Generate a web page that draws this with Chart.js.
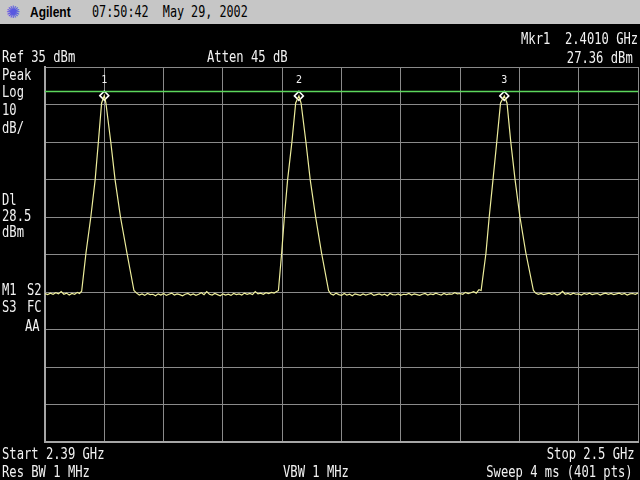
<!DOCTYPE html>
<html>
<head>
<meta charset="utf-8">
<script src="https://cdn.jsdelivr.net/npm/chart.js@4.4.0/dist/chart.umd.min.js"></script>
<style>
  html, body { margin: 0; padding: 0; background: #000; }
  #wrap { position: relative; width: 640px; height: 480px; overflow: hidden; background: #000; }
  #plot { position: absolute; left: 0; top: 0; }
  #head { position: absolute; left: 0; top: 0; width: 640px; height: 24px; background: #c6c6c6; }
  .t { position: absolute; font: 16px "DejaVu Sans Mono", monospace; line-height: 16px; color: #f2f2f2;
       white-space: pre; transform: scaleX(0.76); transform-origin: 0 0; }
  .r { transform-origin: 100% 0; }
  .logo { position: absolute; left: 6px; top: 2px; font: 17px "DejaVu Sans", sans-serif; color: #5858e0; }
  .brand { position: absolute; left: 30px; top: 3px; font: bold 15px "Liberation Sans", Arial, sans-serif;
           color: #000; transform: scaleX(0.8); transform-origin: 0 0; }
</style>
</head>
<body>
<div id="wrap">
  <canvas id="plot" width="640" height="480"></canvas>
  <div id="head">
    <span class="logo">✺</span>
    <span class="brand">Agilent</span>
    <span class="t" style="left:92px; top:3.5px; color:#000; transform:scaleX(0.735);">07:50:42  May 29, 2002</span>
  </div>

  <div class="t r" style="right:2px; top:30.5px;">Mkr1  2.4010 GHz</div>
  <div class="t" style="left:2px; top:48.5px;">Ref 35 dBm</div>
  <div class="t" style="left:207px; top:48.5px;">Atten 45 dB</div>
  <div class="t r" style="right:7px; top:49.5px;">27.36 dBm</div>

  <div class="t" style="left:2px; top:66.5px;">Peak</div>
  <div class="t" style="left:2px; top:84px;">Log</div>
  <div class="t" style="left:2px; top:101.5px;">10</div>
  <div class="t" style="left:2px; top:119.5px;">dB/</div>

  <div class="t" style="left:2px; top:191.5px;">Dl</div>
  <div class="t" style="left:2px; top:207.5px;">28.5</div>
  <div class="t" style="left:2px; top:223.5px;">dBm</div>

  <div class="t" style="left:2px; top:281.5px;">M1</div>
  <div class="t" style="left:27px; top:281.5px;">S2</div>
  <div class="t" style="left:2px; top:298.5px;">S3</div>
  <div class="t" style="left:27px; top:298.5px;">FC</div>
  <div class="t" style="left:25px; top:317.5px;">AA</div>

  <div class="t" style="left:2px; top:445.5px;">Start 2.39 GHz</div>
  <div class="t r" style="right:5px; top:445.5px;">Stop 2.5 GHz</div>
  <div class="t" style="left:2px; top:463.5px;">Res BW 1 MHz</div>
  <div class="t" style="left:283px; top:463.5px;">VBW 1 MHz</div>
  <div class="t r" style="right:7px; top:463.5px;">Sweep 4 ms (401 pts)</div>
</div>

<script>
// analyzer settings
const startMHz = 2390;
const stopMHz = 2500;
const refLevel = 35;      // dBm, top of screen
const dbPerDiv = 10;
const displayLine = 28.5; // dBm

// trace: frequency (MHz) and level (dBm)
const freqMHz = [
  2390, 2390.5, 2391, 2391.5, 2392, 2392.5, 2393, 2393.5, 2394, 2394.5, 2395, 2395.5, 2396, 2396.4,
  2396.8, 2397.6, 2398.5, 2399.3, 2399.9, 2400.5, 2401.0, 2401.3, 2402.2, 2403.0, 2404.0, 2405.2, 2406.5,
  2407, 2407.5, 2408, 2408.5, 2409, 2409.5, 2410, 2410.5, 2411, 2411.5,
  2412, 2412.5, 2413, 2413.5, 2414, 2414.5, 2415, 2415.5, 2416, 2416.5,
  2417, 2417.5, 2418, 2418.5, 2419, 2419.5, 2420, 2420.5, 2421, 2421.5,
  2422, 2422.5, 2423, 2423.5, 2424, 2424.5, 2425, 2425.5, 2426, 2426.5,
  2427, 2427.5, 2428, 2428.5, 2429, 2429.5, 2430, 2430.5, 2431, 2431.5,
  2432, 2432.5,
  2433.3, 2433.9, 2434.4, 2435.0, 2435.8, 2436.5, 2437.1, 2437.5, 2438.4, 2439.2, 2440.2, 2441.3, 2442.6,
  2443, 2443.5, 2444, 2444.5, 2445, 2445.5, 2446, 2446.5, 2447, 2447.5,
  2448, 2448.5, 2449, 2449.5, 2450, 2450.5, 2451, 2451.5, 2452, 2452.5,
  2453, 2453.5, 2454, 2454.5, 2455, 2455.5, 2456, 2456.5, 2457, 2457.5,
  2458, 2458.5, 2459, 2459.5, 2460, 2460.5, 2461, 2461.5, 2462, 2462.5,
  2463, 2463.5, 2464, 2464.5, 2465, 2465.5, 2466, 2466.5, 2467, 2467.5,
  2468, 2468.5, 2469, 2469.5, 2470, 2470.5,
  2470.9, 2471.8, 2472.4, 2473.1, 2473.8, 2474.5, 2475.2, 2475.7, 2476.4, 2477.2, 2478.1, 2479.2, 2480.6,
  2481, 2481.5, 2482, 2482.5, 2483, 2483.5, 2484, 2484.5, 2485, 2485.5,
  2486, 2486.5, 2487, 2487.5, 2488, 2488.5, 2489, 2489.5, 2490, 2490.5,
  2491, 2491.5, 2492, 2492.5, 2493, 2493.5, 2494, 2494.5, 2495, 2495.5,
  2496, 2496.5, 2497, 2497.5, 2498, 2498.5, 2499, 2499.5, 2500
];
const levelDbm = [
  -25.4, -25.7, -25.3, -25.6, -25.2, -25.5, -24.9, -25.6, -25.3, -25.8, -25.4, -25.6, -25.1, -25.4,
  -24.8, -14.6, -5.0, 4.9, 15.0, 25.4, 27.36, 25.4, 15.0, 4.9, -5.0, -14.6, -24.6,
  -25.3, -25.8, -25.5, -25.9, -25.4, -25.7, -25.6, -26.0, -25.5, -25.8,
  -25.4, -25.9, -25.6, -25.3, -25.8, -25.5, -25.7, -26.0, -25.6, -25.4,
  -25.8, -25.5, -25.9, -25.6, -25.2, -25.7, -24.9, -25.6, -25.8, -25.4,
  -25.7, -26.0, -25.5, -25.8, -25.6, -25.9, -25.4, -25.7, -25.5, -25.8,
  -25.3, -25.6, -25.4, -25.7, -24.9, -25.5, -25.3, -25.6, -25.2, -25.4,
  -25.1, -25.3,
  -24.6, -14.6, -5.0, 4.9, 15.0, 25.4, 27.3, 25.4, 15.0, 4.9, -5.0, -14.6, -24.6,
  -25.5, -25.8, -25.3, -25.7, -25.9, -25.4, -25.8, -25.6, -26.0, -25.5,
  -25.7, -25.9, -25.5, -25.8, -25.6, -25.4, -25.9, -25.7, -25.5, -25.8,
  -25.6, -26.0, -25.4, -25.7, -25.8, -25.5, -25.9, -25.6, -25.7, -25.4,
  -25.8, -25.5, -25.7, -25.9, -25.6, -25.4, -25.8, -25.5, -25.7, -25.3,
  -25.6, -25.8, -25.4, -25.7, -25.5, -25.6, -25.2, -25.5, -25.4, -25.6,
  -25.1, -25.4, -25.2, -24.9, -25.3, -24.4,
  -24.6, -14.6, -5.0, 4.9, 15.0, 25.4, 27.3, 25.4, 15.0, 4.9, -5.0, -14.6, -24.6,
  -25.3, -25.6, -25.4, -25.7, -25.5, -25.3, -25.6, -25.4, -25.8, -25.5,
  -24.8, -25.6, -25.4, -25.7, -25.3, -25.6, -25.5, -25.8, -25.4, -25.6,
  -25.3, -25.7, -25.5, -25.4, -25.8, -25.5, -25.3, -25.6, -25.4, -25.7,
  -25.5, -25.3, -25.6, -25.4, -25.8, -25.5, -25.4, -25.6, -25.3
];

// markers
const markerNames = ['1', '2', '3'];
const markerFreq = [2401.0, 2437.1, 2475.2];
const markerLevel = [27.36, 27.3, 27.3];

const tracePoints = freqMHz.map((f, i) => ({ x: f, y: levelDbm[i] }));
const markerPoints = markerFreq.map((f, i) => ({ x: f, y: markerLevel[i] }));

// marker numbers above the diamonds
const markerLabels = {
    id: 'markerLabels',
    afterDatasetsDraw(chart) {
        const ctx = chart.ctx;
        const xs = chart.scales.x, ys = chart.scales.y;
        ctx.save();
        ctx.fillStyle = '#f2f2f2';
        ctx.font = '10px "DejaVu Sans Mono"';
        ctx.textAlign = 'center';
        ctx.textBaseline = 'alphabetic';
        markerNames.forEach((n, i) => {
            ctx.fillText(n, xs.getPixelForValue(markerFreq[i]), ys.getPixelForValue(displayLine) - 8);
        });
        ctx.restore();
    }
};

const screenBg = {
    id: 'screenBg',
    beforeDraw(chart) {
        const ctx = chart.ctx;
        ctx.save();
        ctx.fillStyle = '#000';
        ctx.fillRect(0, 0, chart.width, chart.height);
        ctx.restore();
    }
};

const plot = new Chart(document.getElementById('plot'), {
    type: 'line',
    data: {
        datasets: [{
            label: 'Trace',
            data: tracePoints,
            borderColor: '#eeee9c',
            borderWidth: 1.2,
            pointRadius: 0,
            tension: 0
        }, {
            label: 'Display line',
            data: [{ x: startMHz, y: displayLine }, { x: stopMHz, y: displayLine }],
            borderColor: '#5cd65c',
            borderWidth: 1.5,
            pointRadius: 0
        }, {
            label: 'Markers',
            data: markerPoints,
            showLine: false,
            pointStyle: 'rectRot',
            pointRadius: 4.5,
            pointBackgroundColor: '#000',
            pointBorderColor: '#ffffff',
            pointBorderWidth: 1.5
        }]
    },
    options: {
        responsive: false,
        devicePixelRatio: 1,
        animation: false,
        layout: { autoPadding: false, padding: { left: 45, right: 2, top: 67, bottom: 38 } },
        plugins: { legend: { display: false }, tooltip: { enabled: false } },
        scales: {
            x: {
                type: 'linear',
                min: startMHz,
                max: stopMHz,
                ticks: { display: false, stepSize: (stopMHz - startMHz) / 10 },
                grid: { color: '#8a8a8a', lineWidth: 1, drawTicks: false },
                border: { color: '#a6a6a6', width: 2 }
            },
            y: {
                min: refLevel - 10 * dbPerDiv,
                max: refLevel,
                ticks: { display: false, stepSize: dbPerDiv },
                grid: { color: '#8a8a8a', lineWidth: 1, drawTicks: false },
                border: { color: '#a6a6a6', width: 2 }
            }
        }
    },
    plugins: [screenBg, markerLabels]
});
</script>
</body>
</html>
